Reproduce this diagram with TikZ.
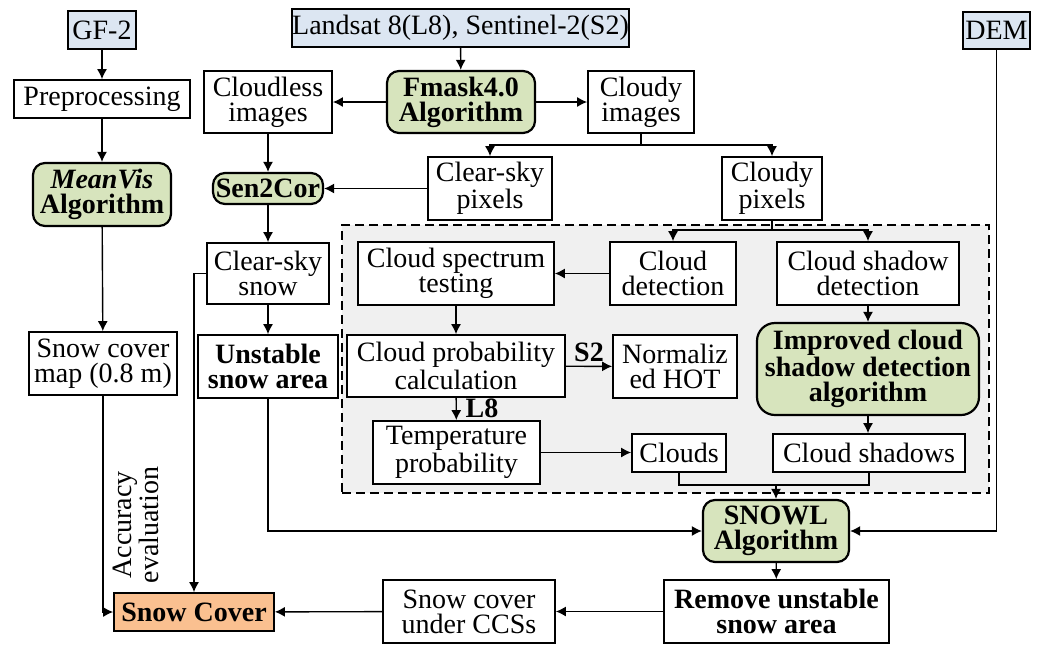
\documentclass[tikz,border=0pt]{standalone}
\usepackage{fontspec}
\setmainfont{Liberation Serif}
\usetikzlibrary{arrows.meta}
\definecolor{bluefill}{HTML}{DCE6F2}
\definecolor{greenfill}{HTML}{D7E4BD}
\definecolor{orangefill}{HTML}{FAC090}
\definecolor{grayfill}{HTML}{F0F0F0}
\begin{document}
\begin{tikzpicture}[x=0.5pt,y=-0.5pt,
 every node/.style={font=\fontsize{14}{12.6}\selectfont, align=center, inner sep=0pt},
 pos/.style args={#1/#2/#3/#4}{at={({(#1+#3)/2},{(#2+#4)/2})}, minimum width={(#3-#1)*0.5pt}, minimum height={(#4-#2)*0.5pt}},
 box/.style={draw, line width=0.85pt, fill=white},
 bbox/.style={box, font=\fontsize{14}{12.6}\selectfont\bfseries},
 input/.style={box, fill=bluefill},
 algo/.style={draw, line width=1.1pt, rounded corners=6pt, fill=greenfill, font=\fontsize{14}{12.6}\selectfont\bfseries},
 result/.style={draw, line width=0.85pt, fill=orangefill, font=\fontsize{14}{12.6}\selectfont\bfseries},
 region/.style={draw, line width=1.2pt, dash pattern=on 4.5pt off 2.5pt, fill=grayfill},
 conn/.style={line width=0.7pt, -{Latex[length=5pt,width=5pt]}},
 plain/.style={line width=0.7pt},
 lbl/.style={font=\fontsize{14}{12.6}\selectfont\bfseries},
]
\useasboundingbox (0,0) rectangle (1046,644);

% dashed region
\node[region, pos=342/225/989/493] (reg) {};

% inputs
\node[input, pos=68/11/136/49] (gf) {GF-2};
\node[input, pos=292/9/629/47] (ls) {Landsat 8(L8), Sentinel-2(S2)};
\node[input, pos=963/12/1030/49] (dem) {DEM};

% left column
\node[box, pos=14/80/190/118] (pre) {Preprocessing};
\node[algo, pos=33/163/171/226] (mv) {\textit{MeanVis}\\Algorithm};
\node[box, pos=29/332/177/395] (scm) {Snow cover\\map (0.8 m)};
\node[result, pos=114/593/274/631] (sc) {Snow Cover};

% second column
\node[box, pos=204/71/332/133] (cli) {Cloudless\\images};
\node[algo, pos=213/173/323/204] (s2c) {Sen2Cor};
\node[box, pos=207/243/329/304] (css) {Clear-sky\\snow};
\node[bbox, pos=198/335/338/398] (usa) {Unstable\\snow area};

% top middle
\node[algo, pos=387/71/535/133] (fm) {Fmask4.0\\Algorithm};
\node[box, pos=588/71/694/133] (cdi) {Cloudy\\images};
\node[box, pos=428/157/552/220] (csp) {Clear-sky\\pixels};
\node[box, pos=722/157/822/220] (cp) {Cloudy\\pixels};

% inside region
\node[box, pos=358/242/554/305] (cst) {Cloud spectrum\\testing};
\node[box, pos=610/242/736/305] (cd) {Cloud\\detection};
\node[box, pos=777/242/959/305] (csd) {Cloud shadow\\detection};
\node[box, pos=347/335/565/397] (cpc) {Cloud probability\\calculation};
\node[box, pos=613/335/737/398] (hot) {Normaliz\\ed HOT};
\node[algo, rounded corners=9pt, pos=757/323/979/415] (ics) {Improved cloud\\shadow detection\\algorithm};
\node[box, pos=373/421/540/484] (tp) {Temperature\\probability};
\node[box, pos=632/434/726/472] (cl) {Clouds};
\node[box, pos=773/434/965/472] (csh) {Cloud shadows};

% bottom
\node[algo, pos=703/500/849/562] (snowl) {SNOWL\\Algorithm};
\node[bbox, pos=664/580/889/643] (rm) {Remove unstable\\snow area};
\node[box, pos=383/580/555/643] (scu) {Snow cover\\under CCSs};

\node[rotate=90] (acc) at (136,525) {Accuracy\\evaluation};

% junctions
\coordinate (j1) at (641,145);
\coordinate (j2) at (772,230);
\coordinate (j3) at (776,485);

% connectors
\draw[conn] (gf) -- (pre);
\draw[conn] (pre) -- (mv);
\draw[conn] (mv) -- (scm);
\draw[conn] (scm.south) |- (sc.west);

\draw[conn] (ls) -- (fm);
\draw[conn] (fm) -- (cli);
\draw[conn] (fm) -- (cdi);
\draw[conn] (cli) -- (s2c);
\draw[plain] (cdi.south) -- (j1);
\draw[conn] (j1) -| (csp.north);
\draw[conn] (j1) -| (cp.north);
\draw[conn] (csp) -- (s2c);
\draw[conn] (s2c) -- (css);
\draw[conn] (css.west) -| (sc.north);
\draw[conn] (css) -- (usa);
\draw[conn] (usa.south) |- (snowl.west);

\draw[plain] (cp.south) -- (j2);
\draw[conn] (j2) -| (cd.north);
\draw[conn] (j2) -| (csd.north);
\draw[conn] (cd) -- (cst);
\draw[conn] (cst) -- (cpc);
\draw[conn] (cpc) -- node[lbl, above=2pt] (s2) {S2} (hot);
\draw[conn] (cpc) -- (tp);
\node[lbl] (l8) at (482,408) {L8};
\draw[conn] (tp.east) -- (tp.east -| cl.west);
\draw[conn] (csd) -- (ics);
\draw[conn] (ics.south) -- (ics.south |- csh.north);
\draw[plain] (cl.south) |- (j3);
\draw[plain] (csh.south) |- (j3);
\draw[conn] (j3) -- (snowl.north);
\draw[conn] (dem.south) |- (snowl.east);
\draw[conn] (snowl) -- (rm);
\draw[conn] (rm) -- (scu);
\draw[conn] (scu) -- (sc);
\end{tikzpicture}
\end{document}
